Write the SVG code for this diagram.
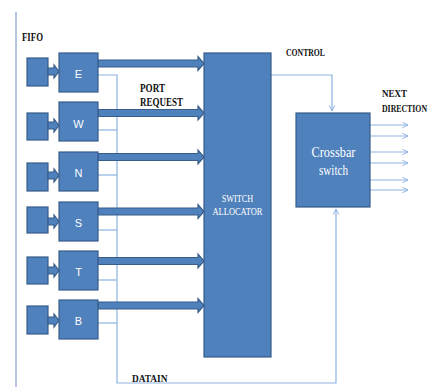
<svg xmlns="http://www.w3.org/2000/svg" width="431" height="387" viewBox="0 0 431 387">
<defs>
<style>
.blk{fill:#4F81BD;stroke:#385D8A;stroke-width:1.2}
.thin{fill:none;stroke:#8DB3E2;stroke-width:1.2}
.lbl{font-family:"Liberation Serif",serif;font-weight:bold;fill:#111}
.wt{font-family:"Liberation Serif",serif;fill:#fff}
.let{font-family:"Liberation Sans",sans-serif;fill:#fff;font-size:11px;text-anchor:middle}
</style>
<marker id="open" viewBox="0 0 10 10" refX="9" refY="5" markerWidth="7" markerHeight="7" orient="auto" markerUnits="userSpaceOnUse">
<path d="M1,1 L9,5 L1,9" fill="none" stroke="#8DB3E2" stroke-width="1.4"/>
</marker>
</defs>
<rect width="431" height="387" fill="#fff"/>
<line x1="16" y1="12" x2="16" y2="387" stroke="#9AB2D4" stroke-width="1.5"/>
<text class="lbl" x="22" y="41" font-size="12" textLength="21" lengthAdjust="spacingAndGlyphs">FIFO</text>
<text class="lbl" x="140" y="92" font-size="12" textLength="25" lengthAdjust="spacingAndGlyphs">PORT</text>
<text class="lbl" x="140" y="106" font-size="12" textLength="43" lengthAdjust="spacingAndGlyphs">REQUEST</text>
<text class="lbl" x="286" y="56" font-size="11" textLength="39" lengthAdjust="spacingAndGlyphs">CONTROL</text>
<text class="lbl" x="382" y="96.5" font-size="11" textLength="25" lengthAdjust="spacingAndGlyphs">NEXT</text>
<text class="lbl" transform="translate(382,111.5) scale(1,1.3)" x="0" y="0" font-size="7.8">DIRECTION</text>
<text class="lbl" x="132" y="381.5" font-size="11" textLength="35.5" lengthAdjust="spacingAndGlyphs">DATAIN</text>

<g id="connectors">
<polyline class="thin" points="98,75 117,75 117,383 336,383 336,209" marker-end="url(#open)"/>
<line class="thin" x1="98" y1="130" x2="117" y2="130"/>
<line class="thin" x1="98" y1="175" x2="117" y2="175"/>
<line class="thin" x1="98" y1="230" x2="117" y2="230"/>
<line class="thin" x1="98" y1="280" x2="117" y2="280"/>
<line class="thin" x1="98" y1="323" x2="117" y2="323"/>
<polyline class="thin" points="271,75 332,75 332,111" marker-end="url(#open)"/>
<line class="thin" x1="370" y1="125" x2="408" y2="125" marker-end="url(#open)"/>
<line class="thin" x1="370" y1="136" x2="408" y2="136" marker-end="url(#open)"/>
<line class="thin" x1="370" y1="152" x2="408" y2="152" marker-end="url(#open)"/>
<line class="thin" x1="370" y1="163" x2="408" y2="163" marker-end="url(#open)"/>
<line class="thin" x1="370" y1="180" x2="408" y2="180" marker-end="url(#open)"/>
<line class="thin" x1="370" y1="190" x2="408" y2="190" marker-end="url(#open)"/>
<path class="blk" d="M98,60 H198 V56.5 L204,63.5 L198,70.5 V67 H98 Z"/>
<path class="blk" d="M98,109.5 H198 V106 L204,113 L198,120 V116.5 H98 Z"/>
<path class="blk" d="M98,153.5 H198 V150 L204,157 L198,164 V160.5 H98 Z"/>
<path class="blk" d="M98,208 H198 V204.5 L204,211.5 L198,218.5 V215 H98 Z"/>
<path class="blk" d="M98,257.5 H198 V254 L204,261 L198,268 V264.5 H98 Z"/>
<path class="blk" d="M98,302 H198 V298.5 L204,305.5 L198,312.5 V309 H98 Z"/>
</g>

<g id="fifo-E"><rect class="blk" x="27" y="58" width="21" height="28"/><path class="blk" d="M48,68 H54 V65 L59,71.5 L54,78 V75 H48 Z"/></g>
<g id="fifo-W"><rect class="blk" x="27" y="113" width="21" height="27"/><path class="blk" d="M48,122 H54 V119 L59,125.5 L54,132 V129 H48 Z"/></g>
<g id="fifo-N"><rect class="blk" x="27" y="163" width="21" height="28"/><path class="blk" d="M48,172 H54 V169 L59,175.5 L54,182 V179 H48 Z"/></g>
<g id="fifo-S"><rect class="blk" x="27" y="207" width="21" height="26"/><path class="blk" d="M48,218 H54 V215 L59,221.5 L54,228 V225 H48 Z"/></g>
<g id="fifo-T"><rect class="blk" x="27" y="257" width="21" height="27"/><path class="blk" d="M48,267 H54 V264 L59,270.5 L54,277 V274 H48 Z"/></g>
<g id="fifo-B"><rect class="blk" x="27" y="306" width="21" height="28"/><path class="blk" d="M48,317 H54 V314 L59,320.5 L54,327 V324 H48 Z"/></g>

<g id="E"><rect class="blk" x="59" y="53" width="39" height="39"/><text class="let" x="78.5" y="78">E</text></g>
<g id="W"><rect class="blk" x="59" y="102" width="39" height="39"/><text class="let" x="78.5" y="127.5">W</text></g>
<g id="N"><rect class="blk" x="59" y="152" width="39" height="39"/><text class="let" x="78.5" y="177">N</text></g>
<g id="S"><rect class="blk" x="59" y="202" width="39" height="39"/><text class="let" x="78.5" y="227">S</text></g>
<g id="T"><rect class="blk" x="59" y="251" width="39" height="39"/><text class="let" x="78.5" y="276">T</text></g>
<g id="B"><rect class="blk" x="59" y="300" width="39" height="39"/><text class="let" x="78.5" y="325">B</text></g>

<g id="switch-allocator"><rect class="blk" x="204" y="53" width="67" height="304"/>
<text class="wt" x="237.5" y="201.5" font-size="10.5" text-anchor="middle" textLength="31.5" lengthAdjust="spacingAndGlyphs">SWITCH</text>
<text class="wt" x="237.5" y="215" font-size="10.5" text-anchor="middle" textLength="50" lengthAdjust="spacingAndGlyphs">ALLOCATOR</text></g>

<g id="crossbar"><rect class="blk" x="296" y="113" width="74" height="94"/>
<text class="wt" x="333.5" y="157" font-size="14" text-anchor="middle" textLength="44" lengthAdjust="spacingAndGlyphs">Crossbar</text>
<text class="wt" x="333.5" y="175" font-size="14" text-anchor="middle" textLength="29" lengthAdjust="spacingAndGlyphs">switch</text></g>
</svg>
